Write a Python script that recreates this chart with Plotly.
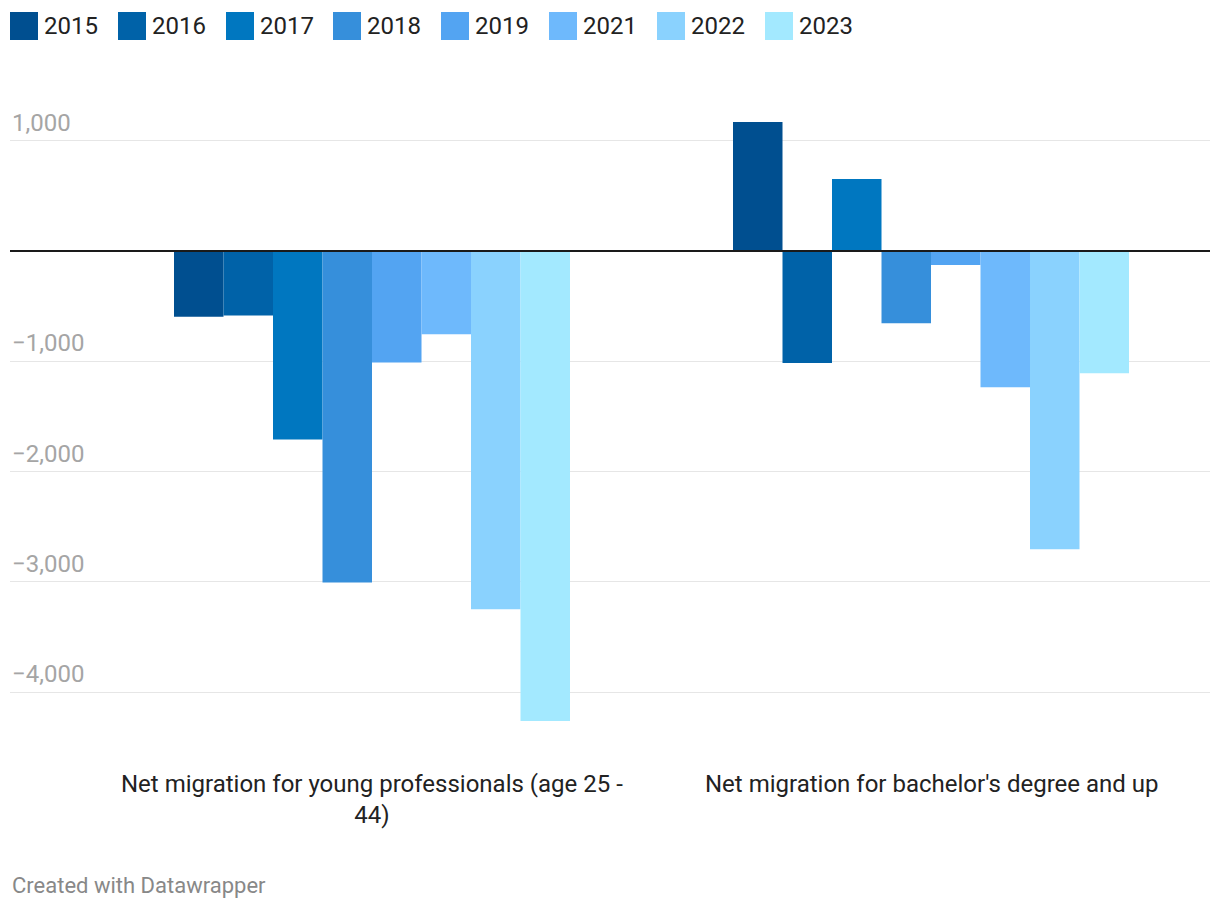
import plotly.graph_objects as go

categories = ["Net migration for young professionals (age 25 -<br>44)",
              "Net migration for bachelor's degree and up"]
years = ["2015", "2016", "2017", "2018", "2019", "2021", "2022", "2023"]
young_professionals = [-597, -585, -1710, -3005, -1011, -755, -3249, -4260]
bachelors_and_up = [1170, -1015, 652, -655, -127, -1236, -2703, -1109]
colors = ["#004f90", "#0062a8", "#0077c0", "#368fdb", "#53a4f2", "#6eb9fc", "#8ad2fe", "#a3e9ff"]
tick_vals = [1000, -1000, -2000, -3000, -4000]
tick_text = ["1,000", "\u22121,000", "\u22122,000", "\u22123,000", "\u22124,000"]

OFF = 8  # page offset of the figure
W, H = 1220 - OFF, 910 - OFF
PL, PR, PT, PB = 10, 1210, 110, 730  # plot area in screen pixels
ML, MR, MT, MB = PL - OFF, W - (PR - OFF), PT - OFF, H - (PB - OFF)
PW, PH = PR - PL, PB - PT

def px(x):
    return (x - PL) / PW

def py(y):
    return (PB - y) / PH

fig = go.Figure()
xpos = [0, 1]
for i, yr in enumerate(years):
    fig.add_trace(go.Bar(
        x=xpos, y=[young_professionals[i], bachelors_and_up[i]],
        name=yr, marker=dict(color=colors[i], line=dict(width=0)),
        showlegend=False, hoverinfo="x+y+name",
    ))

shapes = []
annotations = []
# legend
leg_x = [10, 118, 226, 333, 441, 549, 657, 765]
for i, yr in enumerate(years):
    x0 = leg_x[i]
    shapes.append(dict(type="rect", xref="paper", yref="paper",
                       x0=px(x0), x1=px(x0 + 28), y0=py(40), y1=py(12),
                       fillcolor=colors[i], line=dict(width=0)))
    annotations.append(dict(text=yr, xref="paper", yref="paper",
                            x=px(x0 + 32), y=py(26), xanchor="left", yanchor="middle",
                            showarrow=False, font=dict(size=24, color="#222", family="Roboto")))
# zero line
shapes.append(dict(type="line", xref="paper", yref="y", x0=0, x1=1, y0=0, y1=0,
                   line=dict(color="#1a1a1a", width=2), layer="above"))
# y tick labels
for v, t in zip(tick_vals, tick_text):
    annotations.append(dict(text=t, xref="paper", yref="y", x=0, y=v,
                            xanchor="left", yanchor="bottom", yshift=2, showarrow=False,
                            font=dict(size=24, color="#a5a5a5", family="Roboto")))
# category labels
for xv, c in zip(xpos, categories):
    annotations.append(dict(text=c, xref="x", yref="paper", x=xv, y=py(768),
                            xanchor="center", yanchor="top", showarrow=False,
                            font=dict(size=24, color="#222", family="Roboto")))
annotations.append(dict(text="Created with Datawrapper", xref="paper", yref="paper",
                        x=0, y=py(885), xanchor="left", yanchor="middle", showarrow=False,
                        font=dict(size=22, color="#888", family="Roboto")))

scale = 559.0
fig.update_layout(
    width=W, height=H,
    margin=dict(l=ML, r=MR, t=MT, b=MB),
    paper_bgcolor="white", plot_bgcolor="white",
    barmode="group", bargap=1 - 396 / scale, bargroupgap=0,
    font=dict(family="Roboto"),
    xaxis=dict(range=[-(372 - PL) / scale, 1 + (PR - 931) / scale],
               showticklabels=False, showgrid=False, zeroline=False, fixedrange=True),
    yaxis=dict(range=[-(PB - 251) / 110.3 * 1000, (251 - PT) / 110.3 * 1000],
               tickvals=tick_vals, showticklabels=False, showgrid=True,
               gridcolor="#e6e6e6", gridwidth=1, zeroline=False, fixedrange=True),
    shapes=shapes, annotations=annotations,
)
fig.write_html("out.html")
